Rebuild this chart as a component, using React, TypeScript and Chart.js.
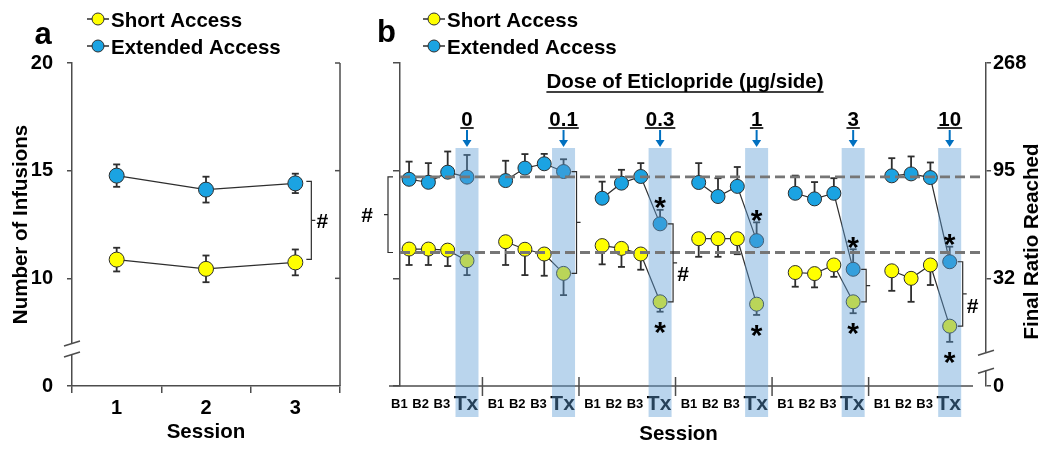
import React, { useEffect, useRef } from 'react';
import { Chart, registerables } from 'chart.js';

Chart.register(...registerables);

const FONT = "'Liberation Sans', Arial, Helvetica, sans-serif";
const YELLOW = '#FFFF00';
const BLUE = '#1BA3E2';
const EDGE = '#2e2e2e';
const AXIS = '#4d4d4d';
const BAND = 'rgba(90, 155, 212, 0.42)';
const ARROW = '#0070C0';
const DASH = '#767676';

// ---------- Panel a ----------
const sessionsA = ['1', '2', '3'];
const shortA = [10.87, 10.44, 10.74];
const shortErrA = [0.55, 0.62, 0.6];
const extendedA = [14.77, 14.12, 14.41];
const extendedErrA = [0.52, 0.6, 0.45];

// shared infusion axis (broken: bottom tick shown as 0)
const infusionTicks = [5, 10, 15, 20];
const infusionTickLabels = ['0', '10', '15', '20'];
const ratioTickLabels = ['0', '32', '95', '268'];

// ---------- Panel b ----------
const doses = ['0', '0.1', '0.3', '1', '3', '10'];
const sessionLabels = ['B1', 'B2', 'B3', 'Tx'];
const extendedB = [
  [14.6, 14.46, 14.93, 14.7],
  [14.54, 15.12, 15.32, 14.96],
  [13.72, 14.42, 14.73, 12.53],
  [14.45, 13.8, 14.27, 11.75],
  [13.95, 13.69, 13.95, 10.42],
  [14.76, 14.85, 14.68, 10.77],
];
const extendedErrB = [
  [0.82, 0.89, 0.96, 1.03],
  [0.92, 0.65, 0.46, 0.57],
  [0.77, 0.62, 0.62, 0.65],
  [0.9, 0.85, 0.9, 0.85],
  [0.82, 0.78, 0.7, 0.93],
  [0.82, 0.81, 0.7, 0.7],
];
const shortB = [
  [11.36, 11.36, 11.31, 10.82],
  [11.7, 11.35, 11.13, 10.23],
  [11.52, 11.39, 11.13, 8.91],
  [11.84, 11.84, 11.84, 8.8],
  [10.27, 10.22, 10.62, 8.91],
  [10.35, 10.0, 10.62, 7.78],
];
const shortErrB = [
  [0.74, 0.74, 0.74, 0.67],
  [1.08, 1.2, 1.01, 1.01],
  [0.87, 0.86, 0.73, 0.46],
  [0.84, 0.84, 0.72, 0.5],
  [0.66, 0.64, 0.55, 0.53],
  [0.93, 1.09, 0.93, 0.73],
];
const extendedBaseline = 14.71;
const shortBaseline = 11.2;
const txSignificant = [false, false, true, true, true, true];
const bracketDoses = ['0.1', '0.3', '3', '10'];
const hashDoses = ['0.3', '10'];

// ---------- helpers ----------
const SLOTS = sessionLabels.length + 1;
const TX = sessionLabels.length - 1;
const slotOf = (d: number, s: number) => d * SLOTS + s;
const LABEL_SHIFT = [-0.5, -0.4, -0.3, -0.05];

function seriesB(values: number[][]) {
  const out: any[] = [];
  values.forEach((grp, d) => {
    grp.forEach((v, s) => out.push({ x: slotOf(d, s), y: v }));
    if (d < values.length - 1) out.push({ x: slotOf(d, grp.length), y: null });
  });
  return out;
}
function errsB(values: number[][]) {
  const out: any[] = [];
  values.forEach((grp, d) => {
    grp.forEach((v) => out.push(v));
    if (d < values.length - 1) out.push(null);
  });
  return out;
}

function line(ctx: CanvasRenderingContext2D, x1: number, y1: number, x2: number, y2: number) {
  ctx.beginPath();
  ctx.moveTo(x1, y1);
  ctx.lineTo(x2, y2);
  ctx.stroke();
}

function text(ctx: CanvasRenderingContext2D, s: string, x: number, y: number, size: number, align: CanvasTextAlign = 'center', color = '#000') {
  ctx.font = `bold ${size}px ${FONT}`;
  ctx.fillStyle = color;
  ctx.textAlign = align;
  ctx.textBaseline = 'alphabetic';
  ctx.fillText(s, x, y);
}

function asterisk(ctx: CanvasRenderingContext2D, x: number, yc: number) {
  text(ctx, '*', x, yc + 0.575 * 30, 30);
}

function hash(ctx: CanvasRenderingContext2D, x: number, yc: number) {
  text(ctx, '#', x, yc + 0.36 * 21, 21);
}

// dir = 1: arms point left, middle tick points right ("]-"); dir = -1 mirrored
function bracket(ctx: CanvasRenderingContext2D, x: number, y1: number, y2: number, dir: number) {
  ctx.save();
  ctx.strokeStyle = EDGE;
  ctx.lineWidth = 1.2;
  ctx.beginPath();
  ctx.moveTo(x - dir * 5, y1);
  ctx.lineTo(x, y1);
  ctx.lineTo(x, y2);
  ctx.lineTo(x - dir * 5, y2);
  const ym = (y1 + y2) / 2;
  ctx.moveTo(x, ym);
  ctx.lineTo(x + dir * 4, ym);
  ctx.stroke();
  ctx.restore();
}

function axisBreak(ctx: CanvasRenderingContext2D, x: number, yc: number, gap: number) {
  ctx.save();
  ctx.fillStyle = '#fff';
  ctx.fillRect(x - 3, yc - gap / 2, 6, gap);
  ctx.strokeStyle = AXIS;
  ctx.lineWidth = 1.5;
  [yc - gap / 2, yc + gap / 2].forEach((y) => line(ctx, x - 8, y + 2.5, x + 8, y - 2.5));
  ctx.restore();
}

function drawLegend(chart: any, cx: number) {
  const ctx = chart.ctx;
  const rows = [19, 46];
  chart.data.datasets.forEach((ds: any, i: number) => {
    const y = rows[i];
    ctx.save();
    ctx.strokeStyle = EDGE;
    ctx.lineWidth = 1.5;
    line(ctx, cx - 11, y, cx + 11, y);
    ctx.beginPath();
    ctx.arc(cx, y, 6, 0, Math.PI * 2);
    ctx.fillStyle = ds.pointBackgroundColor;
    ctx.fill();
    ctx.lineWidth = 1;
    ctx.stroke();
    ctx.restore();
    text(ctx, ds.label, cx + 13, y + 7.5, 20.5, 'left');
  });
}

const errorBarPlugin = {
  id: 'errorBars',
  beforeDatasetsDraw(chart: any) {
    const ctx = chart.ctx;
    const yS = chart.scales.y;
    chart.data.datasets.forEach((ds: any, di: number) => {
      const errs = ds.errors;
      if (!errs) return;
      const meta = chart.getDatasetMeta(di);
      ctx.save();
      ctx.strokeStyle = EDGE;
      ctx.lineWidth = 1.8;
      meta.data.forEach((pt: any, i: number) => {
        const raw = ds.data[i];
        const v = typeof raw === 'number' ? raw : raw ? raw.y : null;
        const e = errs[i];
        if (v == null || e == null) return;
        const ends = ds.errorDir === 'both' ? [v + e, v - e] : ds.errorDir === 'up' ? [v + e] : [v - e];
        ends.forEach((ev: number) => {
          const py = yS.getPixelForValue(ev);
          line(ctx, pt.x, pt.y, pt.x, py);
          line(ctx, pt.x - 3.5, py, pt.x + 3.5, py);
        });
      });
      ctx.restore();
    });
  },
};

const panelAPlugin = {
  id: 'panelA',
  afterDraw(chart: any) {
    const { ctx, chartArea: ca, scales } = chart;
    const xS = scales.x;
    const yS = scales.y;
    ctx.save();
    ctx.strokeStyle = AXIS;
    ctx.lineWidth = 1.5;
    line(ctx, ca.right, ca.top, ca.right, ca.bottom);
    infusionTicks.filter((v) => v > yS.min).forEach((v) => {
      const y = yS.getPixelForValue(v);
      line(ctx, ca.right - 5, y, ca.right, y);
    });
    ctx.restore();
    axisBreak(ctx, ca.left, yS.getPixelForValue(6.72), 11);

    const last = sessionsA.length - 1;
    const bx = xS.getPixelForValue(last) + 16;
    const y1 = yS.getPixelForValue(extendedA[last]) - 2;
    const y2 = yS.getPixelForValue(shortA[last]) - 3;
    bracket(ctx, bx, y1, y2, 1);
    hash(ctx, bx + 11, (y1 + y2) / 2);

    text(ctx, 'a', 43, 43.5, 31);
    drawLegend(chart, 98);
  },
};

const panelBPlugin = {
  id: 'panelB',
  afterDraw(chart: any) {
    const { ctx, chartArea: ca, scales } = chart;
    const xS = scales.x;
    const yS = scales.y;
    ctx.save();
    ctx.strokeStyle = AXIS;
    ctx.lineWidth = 1.5;
    line(ctx, ca.left - 11, ca.bottom, ca.right - 13, ca.bottom);
    for (let d = 0; d < doses.length - 1; d++) {
      const x = xS.getPixelForValue(slotOf(d, TX) + 0.8);
      line(ctx, x, ca.bottom - 9, x, ca.bottom + 10);
    }
    ctx.restore();
    axisBreak(ctx, ca.right, yS.getPixelForValue(6.13), 18);

    // treatment bands
    const bandTop = ca.top + 85;
    const bandBottom = ca.bottom + 31;
    ctx.save();
    ctx.fillStyle = BAND;
    doses.forEach((_, d) => {
      const x = xS.getPixelForValue(slotOf(d, TX));
      ctx.fillRect(x - 11.5, bandTop, 23, bandBottom - bandTop);
    });
    ctx.restore();

    // baseline reference lines
    ctx.save();
    ctx.setLineDash([10, 5]);
    ctx.strokeStyle = DASH;
    ctx.lineWidth = 2.8;
    [extendedBaseline, shortBaseline].forEach((v) => {
      const y = yS.getPixelForValue(v);
      line(ctx, ca.left, y, ca.right - 5, y);
    });
    ctx.restore();

    // left bracket between baselines
    const ly1 = yS.getPixelForValue(extendedBaseline);
    const ly2 = yS.getPixelForValue(shortBaseline);
    bracket(ctx, ca.left - 12, ly1, ly2, -1);
    hash(ctx, ca.left - 33, (ly1 + ly2) / 2);

    // dose headers, arrows
    const midX = (ca.left + ca.right) / 2 - 8;
    const title = 'Dose of Eticlopride (\u00b5g/side)';
    text(ctx, title, midX, 88, 20.5);
    ctx.font = `bold 20.5px ${FONT}`;
    let w = ctx.measureText(title).width;
    ctx.save();
    ctx.strokeStyle = '#000';
    ctx.lineWidth = 1.6;
    line(ctx, midX - w / 2, 92, midX + w / 2, 92);
    ctx.restore();

    doses.forEach((dose, d) => {
      const x = xS.getPixelForValue(slotOf(d, TX));
      const base = bandTop - 22.5;
      text(ctx, dose, x, base, 20.5);
      ctx.font = `bold 20.5px ${FONT}`;
      w = ctx.measureText(dose).width;
      ctx.save();
      ctx.strokeStyle = '#000';
      ctx.lineWidth = 1.6;
      line(ctx, x - w / 2 - 1, base + 2.5, x + w / 2 + 1, base + 2.5);
      ctx.strokeStyle = ARROW;
      ctx.fillStyle = ARROW;
      ctx.lineWidth = 2;
      line(ctx, x, bandTop - 18, x, bandTop - 7);
      ctx.beginPath();
      ctx.moveTo(x - 4.5, bandTop - 8);
      ctx.lineTo(x + 4.5, bandTop - 8);
      ctx.lineTo(x, bandTop - 1);
      ctx.closePath();
      ctx.fill();
      ctx.restore();

      if (txSignificant[d]) {
        const yb = yS.getPixelForValue(extendedB[d][TX] + extendedErrB[d][TX]) - 10;
        const yy = yS.getPixelForValue(shortB[d][TX] - shortErrB[d][TX]) + 13;
        asterisk(ctx, x, yb);
        asterisk(ctx, x, yy);
      }
      if (bracketDoses.includes(dose)) {
        const y1 = yS.getPixelForValue(extendedB[d][TX]);
        const y2 = yS.getPixelForValue(shortB[d][TX]);
        const bx = x + 13;
        bracket(ctx, bx, y1, y2, 1);
        if (hashDoses.includes(dose)) hash(ctx, bx + 10, (y1 + y2) / 2 + 11);
      }
    });

    // x title
    const first = xS.getPixelForValue(slotOf(0, 0) + LABEL_SHIFT[0]);
    const lastX = xS.getPixelForValue(slotOf(doses.length - 1, TX));
    text(ctx, 'Session', (first + lastX) / 2 + 4, 440, 20.5);

    // right axis title
    ctx.save();
    ctx.translate(ca.right + 46, (ca.top + ca.bottom) / 2 + 17);
    ctx.rotate(-Math.PI / 2);
    ctx.font = `bold 20.5px ${FONT}`;
    ctx.fillStyle = '#000';
    ctx.textAlign = 'center';
    ctx.textBaseline = 'middle';
    ctx.fillText('Final Ratio Reached', 0, 0);
    ctx.restore();

    text(ctx, 'b', 36.5, 42, 31);
    drawLegend(chart, 84);
  },
};

const tickFont = { family: FONT, size: 20, weight: 'bold' as const };

function configA(): any {
  return {
    type: 'line',
    data: {
      labels: sessionsA,
      datasets: [
        { label: 'Short Access', data: shortA, errors: shortErrA, errorDir: 'both', pointBackgroundColor: YELLOW, backgroundColor: YELLOW },
        { label: 'Extended Access', data: extendedA, errors: extendedErrA, errorDir: 'both', pointBackgroundColor: BLUE, backgroundColor: BLUE },
      ].map((d) => ({ ...d, borderColor: EDGE, pointBorderColor: EDGE, borderWidth: 1.2, pointRadius: 7.5, pointBorderWidth: 1, fill: false })),
    },
    options: {
      responsive: false,
      animation: false,
      devicePixelRatio: 1,
      layout: { padding: { top: 63, right: 10, left: 0, bottom: 0 } },
      plugins: { legend: { display: false }, tooltip: { enabled: false } },
      scales: {
        x: {
          type: 'category',
          offset: true,
          grid: { offset: true, drawOnChartArea: false, tickLength: 7, color: AXIS, lineWidth: 1.5 },
          border: { color: AXIS, width: 1.5 },
          ticks: { font: tickFont, color: '#000', padding: 3 },
          title: { display: true, text: 'Session', color: '#000', font: { family: FONT, size: 20.5, weight: 'bold' }, padding: { top: 0, bottom: 5 } },
          afterFit: (s: any) => { s.height = 64; },
        },
        y: {
          min: 5,
          max: 20,
          afterBuildTicks: (s: any) => { s.ticks = infusionTicks.map((v) => ({ value: v })); },
          ticks: { font: tickFont, color: '#000', padding: 14, callback: (_v: any, i: number) => infusionTickLabels[i] },
          grid: { drawOnChartArea: false, tickLength: 5, color: AXIS, lineWidth: 1.5 },
          border: { color: AXIS, width: 1.5 },
          title: { display: true, text: 'Number of Infusions', color: '#000', font: { family: FONT, size: 20.5, weight: 'bold' }, padding: { top: 9, bottom: 0 } },
          afterFit: (s: any) => { s.width = 72; },
        },
      },
    },
    plugins: [errorBarPlugin, panelAPlugin],
  };
}

function configB(): any {
  const xTicks = doses.flatMap((_, d) => sessionLabels.map((__, s) => slotOf(d, s) + LABEL_SHIFT[s]));
  const xTickLabels = doses.flatMap(() => sessionLabels);
  return {
    type: 'line',
    data: {
      datasets: [
        { label: 'Short Access', data: seriesB(shortB), errors: errsB(shortErrB), errorDir: 'down', pointBackgroundColor: YELLOW, backgroundColor: YELLOW },
        { label: 'Extended Access', data: seriesB(extendedB), errors: errsB(extendedErrB), errorDir: 'up', pointBackgroundColor: BLUE, backgroundColor: BLUE },
      ].map((d) => ({ ...d, borderColor: EDGE, pointBorderColor: EDGE, borderWidth: 1.2, pointRadius: 7, pointBorderWidth: 1, fill: false, spanGaps: false })),
    },
    options: {
      responsive: false,
      animation: false,
      devicePixelRatio: 1,
      layout: { padding: { top: 63, right: 0, left: 0, bottom: 0 } },
      plugins: { legend: { display: false }, tooltip: { enabled: false } },
      scales: {
        x: {
          type: 'linear',
          min: -0.47,
          max: 29.88,
          afterBuildTicks: (s: any) => { s.ticks = xTicks.map((v) => ({ value: v })); },
          grid: { display: false, drawTicks: false, tickLength: 0 },
          border: { display: false },
          ticks: {
            autoSkip: false,
            maxRotation: 0,
            minRotation: 0,
            padding: 6,
            color: '#000',
            callback: (_v: any, i: number) => xTickLabels[i],
            font: (c: any) => (xTickLabels[c.index] === 'Tx'
              ? { family: FONT, size: 21, weight: 'bold', lineHeight: 24 / 21 }
              : { family: FONT, size: 13, weight: 'bold', lineHeight: 24 / 13 }),
          },
          afterFit: (s: any) => { s.height = 64; },
        },
        y: {
          min: 5,
          max: 20,
          position: 'left',
          afterBuildTicks: (s: any) => { s.ticks = infusionTicks.map((v) => ({ value: v })); },
          ticks: { display: false },
          grid: { drawOnChartArea: false, tickLength: 7, color: AXIS, lineWidth: 1.5 },
          border: { color: AXIS, width: 1.5 },
          afterFit: (s: any) => { s.width = 50; },
        },
        y2: {
          min: 5,
          max: 20,
          position: 'right',
          afterBuildTicks: (s: any) => { s.ticks = infusionTicks.map((v) => ({ value: v })); },
          ticks: { font: tickFont, color: '#000', padding: 2, callback: (_v: any, i: number) => ratioTickLabels[i] },
          grid: { drawOnChartArea: false, tickLength: 5, color: AXIS, lineWidth: 1.5 },
          border: { color: AXIS, width: 1.5 },
          afterFit: (s: any) => { s.width = 64; },
        },
      },
    },
    plugins: [errorBarPlugin, panelBPlugin],
  };
}

export default function App() {
  const refA = useRef<HTMLCanvasElement>(null);
  const refB = useRef<HTMLCanvasElement>(null);
  useEffect(() => {
    Chart.defaults.font.family = FONT;
    const a = new Chart(refA.current as HTMLCanvasElement, configA());
    const b = new Chart(refB.current as HTMLCanvasElement, configB());
    return () => {
      a.destroy();
      b.destroy();
    };
  }, []);
  return (
    <div style={{ position: 'fixed', left: 0, top: 0, width: 1050, height: 450, background: '#fff' }}>
      <canvas ref={refA} width={350} height={450} style={{ position: 'absolute', left: 0, top: 0, width: 350, height: 450 }} />
      <canvas ref={refB} width={700} height={450} style={{ position: 'absolute', left: 350, top: 0, width: 700, height: 450 }} />
    </div>
  );
}
